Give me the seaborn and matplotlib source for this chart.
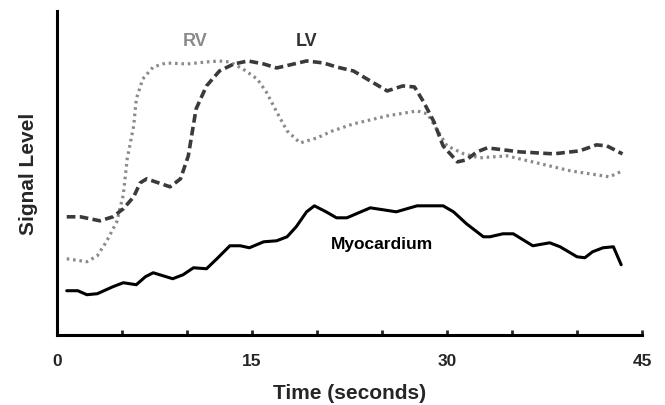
import matplotlib
matplotlib.use("Agg")
import matplotlib.pyplot as plt
import seaborn as sns
import pandas as pd

# Myocardium (solid black)
myo_t = [0.75, 1.6, 2.3, 3.1, 4.3, 5.1, 6.1, 6.8, 7.4, 8.9, 9.7, 10.5, 11.5, 12.3, 13.3,
         14.1, 14.8, 15.9, 16.9, 17.7, 18.4, 19.2, 19.8, 20.7, 21.5, 22.3, 24.1, 26.1,
         27.7, 29.7, 30.5, 31.5, 32.8, 33.3, 34.3, 35.1, 36.6, 37.9, 38.7, 40.0, 40.6,
         41.2, 42.0, 42.8, 43.4]
myo_v = [44, 44, 40, 41, 48, 52, 50, 58, 62, 56, 60, 67, 66, 76, 89,
         89, 87, 93, 94, 98, 108, 123, 129, 123, 117, 117, 127, 123,
         129, 129, 123, 111, 98, 98, 101, 101, 89, 92, 88, 78, 77,
         83, 87, 88, 70]

# LV (dark dashed)
lv_t = [0.75, 1.8, 3.3, 4.3, 5.1, 5.9, 6.4, 6.9, 8.7, 9.5, 10.1, 10.7, 11.5, 12.5, 13.6,
        14.7, 15.9, 16.9, 17.9, 19.2, 20.5, 21.5, 22.8, 24.1, 25.4, 26.6, 27.5, 28.2,
        29.0, 29.7, 30.8, 31.5, 32.3, 33.1, 35.6, 38.2, 40.2, 41.5, 42.3, 43.5]
lv_v = [118, 118, 114, 118, 126, 138, 152, 156, 148, 156, 179, 226, 249, 264, 271,
        274, 271, 267, 270, 274, 272, 268, 264, 254, 244, 249, 248, 233,
        213, 189, 173, 175, 183, 187, 183, 181, 184, 190, 189, 181]

# RV (light dotted)
rv_t = [0.75, 2.3, 3.1, 3.8, 4.6, 5.1, 5.4, 5.9, 6.1, 6.6, 7.4, 8.4, 10.0, 11.5, 12.5,
        13.3, 14.3, 15.4, 16.1, 16.9, 17.7, 18.7, 20.0, 21.2, 22.8, 25.4, 27.7, 28.5,
        29.2, 30.0, 31.3, 32.5, 34.6, 36.9, 39.5, 42.5, 43.5]
rv_v = [76, 73, 79, 93, 113, 140, 176, 209, 236, 256, 268, 272, 271, 273, 274,
        273, 266, 256, 243, 223, 204, 192, 197, 204, 211, 219, 224, 221,
        206, 189, 181, 177, 179, 172, 164, 158, 164]

x_ticks = [0, 5, 10, 15, 20, 25, 30, 35, 40, 45]
x_labels = ["0", "", "", "15", "", "", "30", "", "", "45"]

sns.set_theme(style="white")
plt.rcParams['font.family'] = ['Liberation Sans', 'DejaVu Sans']
plt.rcParams['font.weight'] = 'bold'

fig = plt.figure(figsize=(6.65, 4.06), dpi=100)
ax = fig.add_axes([0.0857, 0.1732, 0.8797, 0.7972])

myo = pd.DataFrame({"t": myo_t, "v": myo_v})
lv = pd.DataFrame({"t": lv_t, "v": lv_v})
rv = pd.DataFrame({"t": rv_t, "v": rv_v})

sns.lineplot(data=rv, x="t", y="v", ax=ax, color="#8a8a8a", linewidth=2.3,
             linestyle=(0, (0.8, 1.2)))
sns.lineplot(data=lv, x="t", y="v", ax=ax, color="#3a3a3a", linewidth=2.6,
             linestyle=(0, (2.4, 1.2)))
sns.lineplot(data=myo, x="t", y="v", ax=ax, color="black", linewidth=2.2)

# series labels
ax.text(10.6, 294, "RV", color="#8a8a8a", fontsize=13, fontweight="bold", ha="center", va="center")
ax.text(19.2, 294, "LV", color="#333333", fontsize=13, fontweight="bold", ha="center", va="center")
ax.text(25.0, 91, "Myocardium", color="black", fontsize=12.5, fontweight="bold", ha="center", va="center")

ax.set_xlim(0, 45)
ax.set_ylim(0, 324)
ax.set_xticks(x_ticks)
ax.set_xticklabels(x_labels, fontsize=12.5, fontweight="bold")
ax.set_yticks([])
ax.tick_params(axis="x", direction="in", length=3.5, width=2, pad=13, bottom=True)
ax.set_xlabel("Time (seconds)", fontsize=15, fontweight="bold", labelpad=11)
ax.set_ylabel("Signal Level", fontsize=15, fontweight="bold", labelpad=14)

for side in ["top", "right"]:
    ax.spines[side].set_visible(False)
for side in ["left", "bottom"]:
    ax.spines[side].set_linewidth(2.2)
    ax.spines[side].set_color("black")

fig.savefig("out.png", dpi=100)
